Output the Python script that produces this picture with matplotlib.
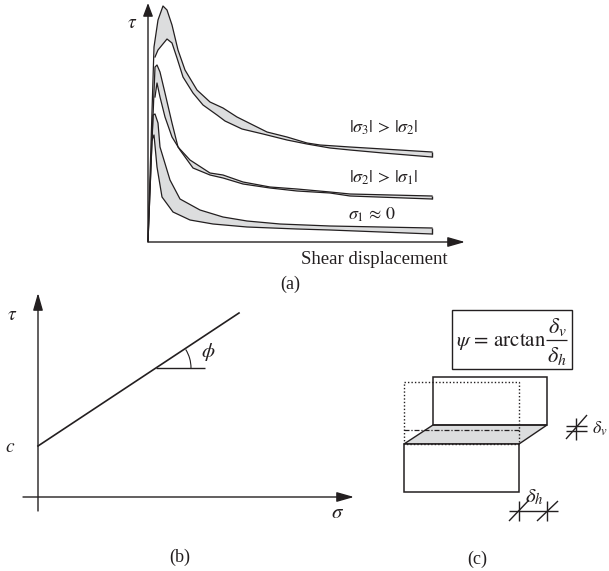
import numpy as np
from matplotlib import pyplot as plt
from matplotlib.patches import Arc, Polygon, Rectangle

plt.rcParams['font.family'] = ['Liberation Serif', 'DejaVu Serif']
plt.rcParams['mathtext.fontset'] = 'stix'

INK = '#231f20'
GREY = '#dcddde'

# (a) curves, pixel positions
s3_upper_x = [148, 154, 158, 163, 167, 172, 178, 185, 197, 210, 223, 237, 253, 267, 287, 307, 320, 350, 383, 432]
s3_upper_y = [241, 47, 20, 6, 10, 25, 50, 70, 90, 102, 108, 117, 125, 132, 137, 143, 145, 147, 149, 152]
s3_lower_x = [155, 158, 167, 172, 177, 183, 193, 203, 217, 225, 242, 263, 287, 307, 330, 350, 383, 432]
s3_lower_y = [57, 50, 39, 43, 58, 77, 93, 105, 115, 121, 129, 134, 140, 144, 148, 150, 153, 157]

s2_upper_x = [148, 155, 157, 160, 165, 172, 178, 190, 210, 223, 243, 270, 297, 330, 350, 432]
s2_upper_y = [241, 67, 65, 72, 93, 123, 147, 160, 173, 175, 182, 187, 189, 192, 194, 196]
s2_lower_x = [155, 157, 160, 165, 172, 180, 193, 210, 223, 243, 270, 297, 330, 350, 432]
s2_lower_y = [97, 83, 97, 117, 137, 150, 168, 175, 178, 184, 188, 191, 193, 196, 199]

s1_upper_x = [148, 153, 155, 158, 160, 170, 180, 200, 223, 247, 280, 330, 432]
s1_upper_y = [241, 115, 114, 123, 147, 180, 199, 210, 217, 221, 224, 226, 228]
s1_lower_x = [152, 154, 157, 162, 173, 190, 213, 247, 297, 330, 432]
s1_lower_y = [140, 135, 167, 197, 212, 220, 224, 227, 229, 230, 234]

curve_sets = [
    (s3_upper_x, s3_upper_y, s3_lower_x, s3_lower_y),
    (s2_upper_x, s2_upper_y, s2_lower_x, s2_lower_y),
    (s1_upper_x, s1_upper_y, s1_lower_x, s1_lower_y),
]

# (b) strength line
line_b_x = [38, 239]
line_b_y = [446, 313]

fig = plt.figure(figsize=(6.09, 5.71), dpi=100)
ax = fig.add_axes([0, 0, 1, 1])
ax.set_xlim(0, 609)
ax.set_ylim(571, 0)
ax.axis('off')


def arrow(x0, y0, x1, y1, head=1.05):
    ax.annotate('', xy=(x1, y1), xytext=(x0, y0),
                arrowprops=dict(arrowstyle='-|>,head_length=%s,head_width=0.3' % head, color=INK,
                                lw=1.0, shrinkA=0, shrinkB=0, mutation_scale=10), zorder=5)


def seg(x0, y0, x1, y1, lw=1.0, **kw):
    ax.plot([x0, x1], [y0, y1], color=kw.pop('color', INK), lw=lw, solid_capstyle='butt', **kw)


def label(x, y, s, size=13, **kw):
    ax.text(x, y, s, fontsize=size, color=INK, ha='center', va='center', **kw)


# panel (a)
for ux, uy, lx, ly in curve_sets:
    upper = np.column_stack([ux[1:], uy[1:]])
    lower = np.column_stack([lx, ly])
    ax.add_patch(Polygon(np.vstack([upper, lower[::-1]]), closed=True, fc=GREY, ec='none'))
    ax.plot(ux, uy, color=INK, lw=0.9)
    ax.plot(lx, ly, color=INK, lw=0.9)
    seg(ux[-1], uy[-1], lx[-1], ly[-1])

arrow(148, 242, 148, 3, head=0.8)
arrow(148, 242, 465, 242)
label(132, 24, r'$\tau$', 14)
label(384, 128, r'$|\sigma_3|\,>\,|\sigma_2|$', 13)
label(384, 178, r'$|\sigma_2|\,>\,|\sigma_1|$', 13)
label(372, 215, r'$\sigma_1\,\approx\,0$', 13)
label(374, 259, 'Shear displacement', 13.5)
label(290, 284, '(a)')

# panel (b)
arrow(38, 511, 38, 293)
arrow(23, 497, 354, 497)
ax.plot(line_b_x, line_b_y, color=INK, lw=1.2)
seg(156, 368, 205, 368)
ax.add_patch(Arc((156, 368), 70, 70, theta1=-32, theta2=0, color=INK, lw=0.8))
label(208, 352, r'$\phi$', 15)
label(12, 316, r'$\tau$', 14)
label(10, 448, r'$c$', 14)
label(338, 514, r'$\sigma$', 15)
label(180, 557, '(b)')

# panel (c)
ax.add_patch(Rectangle((452, 310), 120, 59, fc='none', ec=INK, lw=1.0))
label(501, 341, r'$\psi\,=\,\mathrm{arctan}$', 15)
seg(546, 340, 567, 340, lw=0.9)
label(557, 327, r'$\delta_v$', 16)
label(557, 356, r'$\delta_h$', 16)
ax.add_patch(Polygon([(433, 425), (547, 425), (519, 444), (404, 444)], closed=True, fc=GREY, ec=INK, lw=1.0))
ax.add_patch(Rectangle((433, 377), 114, 48, fc='none', ec=INK, lw=1.1))
ax.add_patch(Rectangle((404, 444), 115, 48, fc='white', ec=INK, lw=1.1))
ax.add_patch(Rectangle((404, 382), 115, 62, fc='none', ec=INK, lw=1.0, ls=(0, (1, 1.5))))
seg(404, 430, 519, 430, lw=0.9, ls=(0, (4, 1.5, 1, 1.5)))

seg(566, 426, 587, 426)
seg(566, 431, 587, 431)
seg(576, 418, 576, 440)
seg(566, 439, 587, 415)
label(600, 429, r'$\delta_v$', 13)

seg(509, 511, 558, 511)
seg(519, 501, 519, 521)
seg(547, 501, 547, 521)
seg(509, 521, 529, 500)
seg(537, 521, 558, 501)
label(534, 497, r'$\delta_h$', 15)
label(477, 559, '(c)')

fig.savefig('out.png', dpi=100)
